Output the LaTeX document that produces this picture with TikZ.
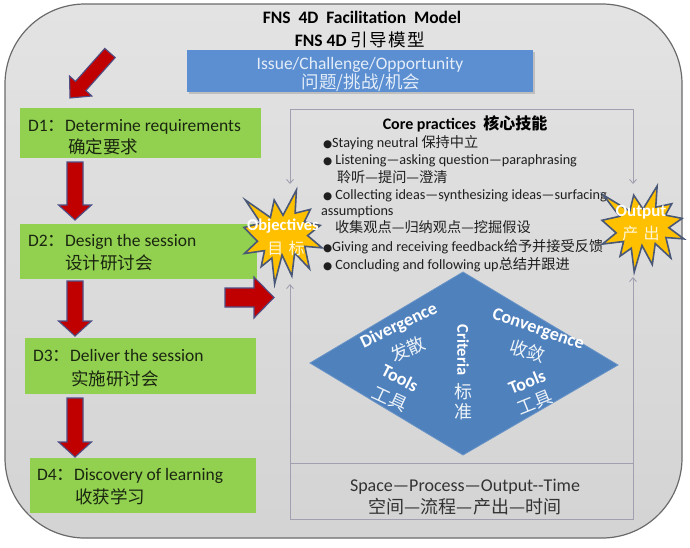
\documentclass[tikz,border=0pt]{standalone}
\usepackage{fontspec}
\setmainfont{Carlito}
\newfontfamily\cjk{Noto Sans CJK SC}
\newfontfamily\sym{DejaVu Sans}
\usetikzlibrary{arrows.meta,shadows}
\definecolor{gfill}{HTML}{92D050}
\definecolor{gtxt}{HTML}{1A2610}
\definecolor{bluebx}{HTML}{5B8FD2}
\definecolor{bluetxt}{HTML}{E4EDF8}
\definecolor{diam}{HTML}{4F81BD}
\definecolor{arrred}{HTML}{C00000}
\definecolor{arrborder}{HTML}{4F4F86}
\definecolor{burstfill}{HTML}{FFC000}
\definecolor{burstborder}{HTML}{4A5878}
\definecolor{linegray}{HTML}{A0A0B0}
\definecolor{outerborder}{HTML}{6A6A6A}
\tikzset{
  every node/.style={inner sep=0pt, outer sep=0pt},
  gbox/.style={fill=gfill, draw=none, anchor=north west},
  gtext/.style={anchor=base west, text=gtxt, font=\fontsize{17.5}{20}\selectfont},
  coretext/.style={anchor=base west, text=black!88, font=\fontsize{14.2}{16}\selectfont},
  dtext/.style={text=white, font=\bfseries\fontsize{18}{20}\selectfont},
  dcjk/.style={text=white!90!diam, font=\cjk\fontsize{18}{20}\selectfont},
  redarrow/.style={fill=arrred, draw=arrborder, line width=1.1pt, line join=miter},
  coreline/.style={draw=linegray, line width=0.9pt},
  burst/.style={fill=burstfill, draw=burstborder, line width=1.6pt, line join=miter},
  bursttext/.style={text=white, font=\bfseries\fontsize{16.5}{18}\selectfont},
  burstcjk/.style={text=white!85!burstfill, font=\cjk\fontsize{16}{18}\selectfont},
}
\newcommand\bul{{\sym\fontsize{10.5}{12}\selectfont ●}}
\newcommand\downblock[3]{%
  \draw[redarrow] (#1-8,#2) -- (#1+8,#2) -- (#1+8,#3-15) -- (#1+16.5,#3-15)
    -- (#1,#3) -- (#1-16.5,#3-15) -- (#1-8,#3-15) -- cycle;}
\newcommand\burstshape[4]{%
  \begin{scope}[shift={(#1,#2)}, x=#3, y=#4]
  \draw[burst] (50,26.85) -- (67.23,0) -- (65.53,24.65) -- (85.09,20.63) -- (77.31,33.86)
   -- (97.67,37.67) -- (81.51,48.50) -- (100,61.53) -- (77.95,59.92) -- (84.00,83.78)
   -- (64.91,66.93) -- (61.33,91.38) -- (48.76,69.14) -- (39.28,100) -- (35.72,72.35)
   -- (22.05,81.56) -- (26.24,64.52) -- (0.63,67.53) -- (17.23,54.51) -- (0,39.88)
   -- (21.42,35.26) -- (1.71,10.63) -- (33.85,29.26) -- (38.67,10.63) -- cycle;
  \end{scope}}
\begin{document}
\begin{tikzpicture}[x=1pt, y=-1pt]
\useasboundingbox (0,0) rectangle (690,547);
% outer rounded panel
\draw[draw=outerborder, line width=1.2pt, rounded corners=80pt, top color=black!11, bottom color=black!17]
  (5,4) rectangle (682,538);
% title
\node[anchor=base, font=\bfseries\fontsize{17.5}{20}\selectfont] (title1) at (362,23)
  {FNS\hspace{0.45em}4D\hspace{0.45em}Facilitation\hspace{0.45em}Model};
\node[anchor=base, font=\bfseries\fontsize{17.5}{20}\selectfont] (title2) at (360,46)
  {FNS 4D {\cjk\mdseries 引\kern1.5pt 导\kern1.5pt 模\kern1.5pt 型}};
% issue box
\node[anchor=north west, fill=bluebx, minimum width=346pt, minimum height=42pt,
      drop shadow={opacity=0.35, shadow xshift=1.5pt, shadow yshift=-2pt}] (issue) at (187,50) {};
\node[anchor=base, text=bluetxt, font=\fontsize{17.5}{20}\selectfont] (issue1) at (360,69) {Issue/Challenge/Opportunity};
\node[anchor=base, text=bluetxt, font=\cjk\fontsize{17.5}{20}\selectfont] (issue2) at (361,88) {问题/挑战/机会};
% green boxes
\node[gbox, minimum width=241pt, minimum height=50pt] (d1) at (20,108) {};
\node[gbox, minimum width=237pt, minimum height=55pt] (d2) at (20,224) {};
\node[gbox, minimum width=231pt, minimum height=56pt] (d3) at (25,338) {};
\node[gbox, minimum width=226pt, minimum height=55pt] (d4) at (30,458) {};
\node[gtext] (d1a) at (28,131) {D1{\cjk ：}Determine requirements};
\node[gtext] (d1b) at (68,153) {\cjk 确定要求};
\node[gtext] (d2a) at (28,246) {D2{\cjk ：}Design the session};
\node[gtext] (d2b) at (65,269) {\cjk 设计研讨会};
\node[gtext] (d3a) at (33,361) {D3{\cjk ：}Deliver the session};
\node[gtext] (d3b) at (71,385) {\cjk 实施研讨会};
\node[gtext] (d4a) at (37,480) {D4{\cjk ：}Discovery of learning};
\node[gtext] (d4b) at (75,503) {\cjk 收获学习};
% core practices frame
\coordinate (ctl) at (290,109);
\coordinate (ctr) at (633,109);
\coordinate (lTop) at (290,184);
\coordinate (rTop) at (633,184);
\coordinate (lBot) at (290,284);
\coordinate (rBot) at (633,277);
\coordinate (cbl) at (290,519);
\coordinate (cbr) at (633,519);
\coordinate (divl) at (290,463);
\coordinate (divr) at (633,463);
\draw[coreline, {Straight Barb[length=4pt,width=7pt]}-{Straight Barb[length=4pt,width=7pt]}]
  (lTop) -- (ctl) -- (ctr) -- (rTop);
\draw[coreline, {Straight Barb[length=4pt,width=7pt]}-{Straight Barb[length=4pt,width=7pt]}]
  (lBot) -- (cbl) -- (cbr) -- (rBot);
\draw[coreline] (divl) -- (divr);
% core practices text
\node[anchor=base, font=\bfseries\fontsize{16}{18}\selectfont] (coreT) at (465,129) {Core practices\ \ {\cjk 核心技能}};
\node[coretext] (c1) at (323,147) {\bul Staying neutral {\cjk 保持中立}};
\node[coretext] (c2) at (323,164) {\bul\ Listening—asking question—paraphrasing};
\node[coretext] (c3) at (337,182) {\cjk 聆听—提问—澄清};
\node[coretext] (c4) at (323,199) {\bul\ Collecting ideas—synthesizing ideas—surfacing};
\node[coretext] (c5) at (321,215) {assumptions};
\node[coretext] (c6) at (335,232) {\cjk 收集观点—归纳观点—挖掘假设};
\node[coretext] (c7) at (323,251) {\bul Giving and receiving feedback{\cjk 给予并接受反馈}};
\node[coretext] (c8) at (323,269) {\bul\ Concluding and following up{\cjk 总结并跟进}};
% diamond
\coordinate (dl) at (310,363);
\coordinate (dt) at (463,272);
\coordinate (dr) at (618,365);
\coordinate (db) at (463,455);
\draw[fill=diam, draw=diam!85!white, line width=0.8pt] (dl) -- (dt) -- (dr) -- (db) -- cycle;
\node[dtext, rotate=26] (div) at (399,326) {Divergence};
\node[dcjk, rotate=24] (divc) at (408,349) {发散};
\node[dtext, rotate=-27] (tl1) at (400,378) {Tools};
\node[dcjk, rotate=-25] (tl1c) at (390,399) {工具};
\node[dtext, rotate=-90, font=\bfseries\fontsize{16.5}{18}\selectfont] (crit) at (463,350) {Criteria};
\node[dcjk] (critc1) at (463,392) {标};
\node[dcjk] (critc2) at (463,412) {准};
\node[dtext, rotate=-19] (conv) at (538,330) {Convergence};
\node[dcjk, rotate=-17] (convc) at (528,351) {收敛};
\node[dtext, rotate=22] (tl2) at (527,382) {Tools};
\node[dcjk, rotate=22] (tl2c) at (535,403) {工具};
% bottom text
\node[anchor=base, text=black!80, font=\fontsize{18}{20}\selectfont] (spt) at (465,491) {Space—Process—Output-{}-Time};
\node[anchor=base, text=black!80, font=\cjk\fontsize{18}{20}\selectfont] (sptc) at (465,513) {空间—流程—产出—时间};
% starbursts
\burstshape{244}{190}{0.78pt}{-0.94pt}
\node[bursttext] (obj) at (283,226) {Objectives};
\node[burstcjk] (objc) at (286,248) {目\,\,标};
\burstshape{602}{186}{0.82pt}{-0.86pt}
\node[bursttext, font=\bfseries\fontsize{17}{19}\selectfont] (outp) at (641,212) {Output};
\node[burstcjk] (outpc) at (641,233) {产\,\,出};
% red arrows
\draw[redarrow] (104.8,48.4) -- (115.2,57.6) -- (85.9,90.6) -- (91.9,96.0) -- (70,98)
  -- (69.5,76.0) -- (75.5,81.4) -- cycle;
\downblock{75}{162}{220}
\downblock{75}{281}{336}
\downblock{75}{398}{457}
\draw[redarrow] (225,288) -- (254,288) -- (254,277) -- (274,297.5) -- (254,318)
  -- (254,307) -- (225,307) -- cycle;
\end{tikzpicture}
\end{document}
